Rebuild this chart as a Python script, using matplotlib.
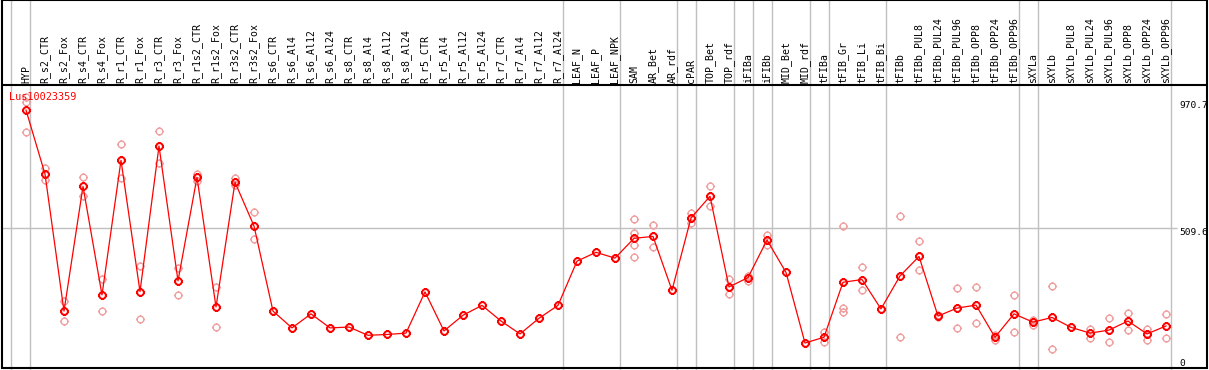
import matplotlib

matplotlib.use("Agg")
import matplotlib.pyplot as plt
from matplotlib.path import Path
import numpy as np

GENE = "Lus10023359"

CATEGORIES = [
    "HYP",
    "R_s2_CTR", "R_s2_Fox", "R_s4_CTR", "R_s4_Fox", "R_r1_CTR", "R_r1_Fox",
    "R_r3_CTR", "R_r3_Fox", "R_r1s2_CTR", "R_r1s2_Fox", "R_r3s2_CTR", "R_r3s2_Fox",
    "R_s6_CTR", "R_s6_Al4", "R_s6_Al12", "R_s6_Al24",
    "R_s8_CTR", "R_s8_Al4", "R_s8_Al12", "R_s8_Al24",
    "R_r5_CTR", "R_r5_Al4", "R_r5_Al12", "R_r5_Al24",
    "R_r7_CTR", "R_r7_Al4", "R_r7_Al12", "R_r7_Al24",
    "LEAF_N", "LEAF_P", "LEAF_NPK",
    "SAM", "AR_Bet", "AR_rdf", "cPAR", "TOP_Bet", "TOP_rdf",
    "iFIBa", "iFIBb", "MID_Bet", "MID_rdf",
    "tFIBa", "tFIB_Gr", "tFIB_Li", "tFIB_Bi",
    "tFIBb", "tFIBb_PUL8", "tFIBb_PUL24", "tFIBb_PUL96",
    "tFIBb_OPP8", "tFIBb_OPP24", "tFIBb_OPP96",
    "sXYLa", "sXYLb", "sXYLb_PUL8", "sXYLb_PUL24", "sXYLb_PUL96",
    "sXYLb_OPP8", "sXYLb_OPP24", "sXYLb_OPP96",
]

# mean expression per sample
MEANS = [
    939, 706, 207, 661, 266, 756, 278, 808, 317, 694, 222, 676, 517, 207, 146,
    197, 146, 149, 119, 122, 127, 277, 135, 192, 228, 171, 124, 181, 228, 389,
    421, 400, 472, 479, 283, 546, 625, 295, 329, 466, 348, 91, 112, 312, 322,
    215, 335, 406, 189, 218, 229, 112, 197, 167, 184, 148, 127, 138, 171, 124,
    153,
]

# individual replicates (empty where they sit under the mean)
REPLICATES = {
    "HYP": [985, 968, 859],
    "R_s2_CTR": [727, 684], "R_s2_Fox": [244, 170],
    "R_s4_CTR": [694, 627], "R_s4_Fox": [325, 207],
    "R_r1_CTR": [814, 692], "R_r1_Fox": [371, 177],
    "R_r3_CTR": [861, 747], "R_r3_Fox": [363, 265],
    "R_r1s2_CTR": [707, 682], "R_r1s2_Fox": [296, 148],
    "R_r3s2_CTR": [690, 666], "R_r3s2_Fox": [567, 468],
    "SAM": [542, 493, 448, 403],
    "AR_Bet": [521, 439],
    "cPAR": [565, 527],
    "TOP_Bet": [661, 591], "TOP_rdf": [324, 268],
    "iFIBa": [335, 318], "iFIBb": [484, 448],
    "tFIBa": [132, 95],
    "tFIB_Gr": [516, 217, 203], "tFIB_Li": [368, 285],
    "tFIBb": [552, 112],
    "tFIBb_PUL8": [461, 356], "tFIBb_PUL24": [193, 185], "tFIBb_PUL96": [290, 146],
    "tFIBb_OPP8": [294, 164], "tFIBb_OPP24": [120, 102], "tFIBb_OPP96": [265, 130],
    "sXYLa": [175, 158], "sXYLb": [297, 68],
    "sXYLb_PUL24": [141, 108], "sXYLb_PUL96": [181, 96],
    "sXYLb_OPP8": [200, 138], "sXYLb_OPP24": [143, 103], "sXYLb_OPP96": [197, 108],
}

# a separator is drawn right of each of these columns
GROUP_ENDS = [
    "HYP", "R_r7_Al24", "LEAF_NPK", "AR_rdf", "cPAR", "TOP_rdf", "iFIBa",
    "iFIBb", "MID_rdf", "tFIBa", "tFIB_Bi", "tFIBb_OPP96", "sXYLa", "sXYLb_OPP96",
]

Y_TICKS = [970.7, 509.6, 0]

# --- layout (pixels of the 1209x370 image) ---
W, H = 1209, 370
X0, DX = 26, 19          # first column centre, column pitch
Y_BASE, Y_HEAD = 368, 85  # zero line, header separator
K = 509.6 / 140.0        # value units per pixel


def px_x(x):
    return (x - X0) / DX


def px_y(y):
    return (Y_BASE - y) * K


def marker_path():
    stubs = Path(
        [(0, 1), (0, 1.35), (0, -1), (0, -1.35), (1, 0), (1.35, 0), (-1, 0), (-1.35, 0)],
        [Path.MOVETO, Path.LINETO] * 4,
    )
    return Path.make_compound_path(Path.unit_circle(), stubs)


def main() -> None:
    mark = marker_path()
    mono = "DejaVu Sans Mono"
    grey = "#c0c0c0"

    fig = plt.figure(figsize=(W / 100, H / 100), dpi=100, facecolor="white")
    ax = fig.add_axes([0, 0, 1, 1])
    ax.set_axis_off()
    ax.set_xlim(px_x(0), px_x(W))
    ax.set_ylim(px_y(H), px_y(0))

    idx = {c: i for i, c in enumerate(CATEGORIES)}
    xs = np.arange(len(CATEGORIES))

    # separators and grid
    off = 4.5 / DX
    for x in [-1] + [idx[c] for c in GROUP_ENDS]:
        ax.vlines(x + off, px_y(H), px_y(0), color=grey, lw=1, zorder=1)
    ax.hlines(509.6, px_x(2), px_x(1177), color=grey, lw=1, zorder=1)

    # frame and header line
    ax.plot([px_x(2), px_x(1207), px_x(1207), px_x(2), px_x(2)],
            [px_y(0.5), px_y(0.5), px_y(Y_BASE), px_y(Y_BASE), px_y(0.5)],
            color="black", lw=1.5, zorder=5, solid_joinstyle="miter")
    ax.hlines(px_y(Y_HEAD), px_x(2), px_x(1207), color="black", lw=1.5, zorder=5)

    # replicates
    rx, ry = [], []
    for c, vals in REPLICATES.items():
        rx += [idx[c]] * len(vals)
        ry += vals
    ax.plot(rx, ry, ls="none", marker=mark, ms=6.5, mfc="none", mec="#f0a0a0",
            mew=1.0, zorder=2)

    # mean line
    ax.plot(xs, MEANS, "-", color="red", lw=0.9, zorder=3)
    ax.plot(xs, MEANS, ls="none", marker=mark, ms=6.5, mfc="none", mec="red",
            mew=1.4, zorder=4)

    # column labels
    for i, c in enumerate(CATEGORIES):
        ax.text(i, px_y(83), c, rotation=90, ha="center", va="bottom",
                fontsize=7.1, family=mono, color="black")

    # value labels
    for v in Y_TICKS:
        va = "bottom" if v == 0 else "top"
        ax.text(px_x(1179), v, f"{v:g}", ha="left", va=va, fontsize=6.8,
                family=mono, color="black", clip_on=True)

    ax.text(px_x(9), px_y(97), GENE, ha="left", va="center", fontsize=7.3,
            family=mono, color="red", zorder=6)

    fig.savefig("out.png", dpi=100, facecolor="white")
    plt.close(fig)


if __name__ == "__main__":
    main()
